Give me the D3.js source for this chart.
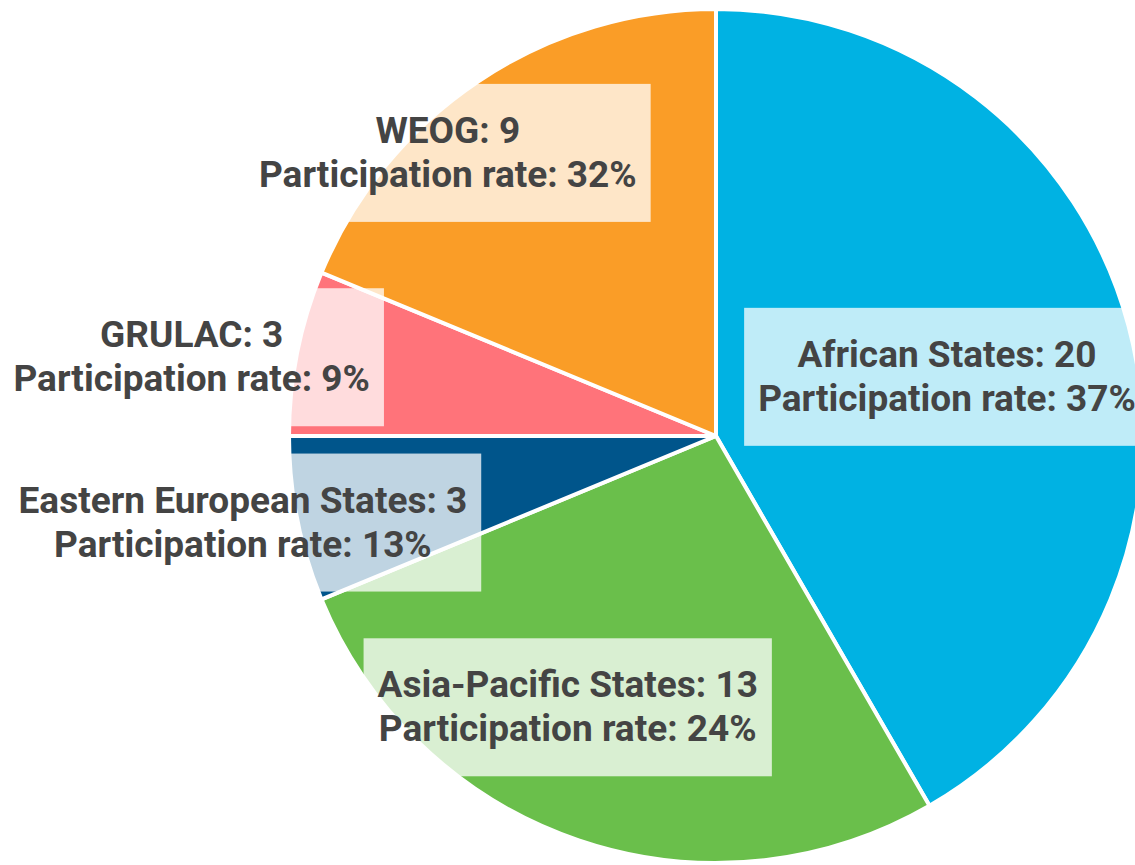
<!DOCTYPE html>
<html>
<head>
<meta charset="utf-8">
<script src="https://cdn.jsdelivr.net/npm/d3@7"></script>
<style>
  html, body { margin: 0; padding: 0; background: #fff; }
  svg { display: block; }
  .label text { font-family: Roboto, "Noto Sans", sans-serif; font-weight: 700; font-size: 37px; fill: #444; }
</style>
</head>
<body>
<svg id="chart" width="1135" height="865"></svg>
<script>
const groups = ["African States", "Asia-Pacific States", "Eastern European States", "GRULAC", "WEOG"];
const counts = [20, 13, 3, 3, 9];
const rates = [37, 24, 13, 9, 32];
const colors = ["#00b2e3", "#6abf4b", "#00558b", "#ff737a", "#fa9d27"];

// label placement: angle nudge (deg) from slice middle, distance as share of radius
const labelNudge = [0.4, 10, 1, -2.6, -9.6];
const labelDist = [0.559, 0.722, 1.126, 1.242, 0.915];

const cx = 716;
const cy = 436;
const radius = 427;

const svg = d3.select("#chart");
const g = svg.append("g").attr("transform", `translate(${cx},${cy})`);

const data = groups.map((name, i) => ({ name, count: counts[i], rate: rates[i], color: colors[i], i }));

const pie = d3.pie().sort(null).value((d) => d.count);
const arcs = pie(data);
const arc = d3.arc().innerRadius(0).outerRadius(radius);

g.append("g")
  .selectAll("path")
  .data(arcs)
  .join("path")
  .attr("d", arc)
  .attr("fill", (d) => d.data.color)
  .attr("stroke", "#fff")
  .attr("stroke-width", 4)
  .attr("stroke-linejoin", "round");

const labelPos = (d) => {
  const mid = (d.startAngle + d.endAngle) / 2 + (labelNudge[d.data.i] * Math.PI) / 180;
  const r = labelDist[d.data.i] * radius;
  return [Math.sin(mid) * r, -Math.cos(mid) * r];
};

const boxes = g.append("g");
const labels = g.append("g").attr("class", "label");

arcs.forEach((d) => {
  const [x, y] = labelPos(d);
  const t = labels.append("text").attr("text-anchor", "middle");
  t.append("tspan").attr("x", x).attr("y", y - 9).text(`${d.data.name}: ${d.data.count}`);
  t.append("tspan").attr("x", x).attr("y", y + 35).text(`Participation rate: ${d.data.rate}%`);

  const w = d3.max(t.selectAll("tspan").nodes(), (n) => n.getComputedTextLength());
  const padX = 14;
  boxes.append("rect")
    .attr("x", x - w / 2 - padX)
    .attr("y", y - 68)
    .attr("width", w + padX * 2)
    .attr("height", 138)
    .attr("fill", "#fff")
    .attr("fill-opacity", 0.75);
});
</script>
</body>
</html>
